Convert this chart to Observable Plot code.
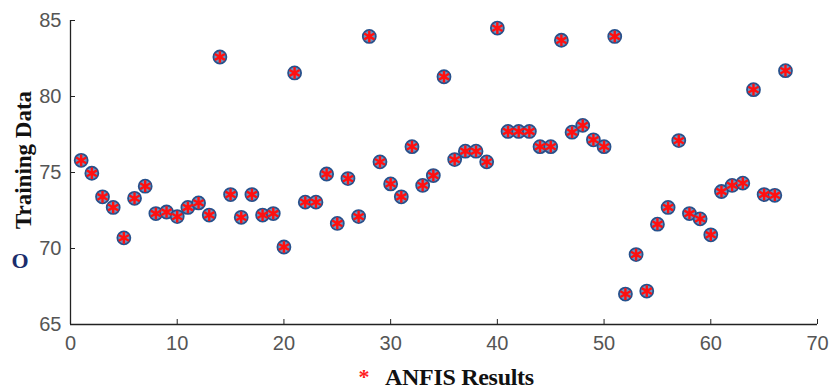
<!DOCTYPE html>
<html>
<head>
<meta charset="utf-8">
<script src="https://cdn.jsdelivr.net/npm/d3@7"></script>
<script src="https://cdn.jsdelivr.net/npm/@observablehq/plot@0.6"></script>
<style>
  body { margin: 0; background: #fff; }
  #wrap { position: relative; width: 830px; height: 389px; }
  .lbl { position: absolute; font-family: "Liberation Serif", "Times New Roman", serif; font-weight: bold; white-space: nowrap; }
  #ylab { left: 24px; top: 160px; transform: translate(-50%, -50%) rotate(-90deg); font-size: 23px; color: #111; }
  #ysym { left: 20px; top: 261px; transform: translate(-50%, -50%); font-size: 22px; color: #1a2d6b; }
  #xsym { left: 364px; top: 377px; transform: translate(-50%, -50%); font-size: 22px; color: #ff2020; }
  #xlab { left: 385px; top: 377px; transform: translate(0, -50%); font-size: 24px; color: #111; letter-spacing: -0.3px; }
  svg [aria-label="x-axis tick label"], svg [aria-label="y-axis tick label"] { fill: #555; }
</style>
</head>
<body>
<div id="wrap">
  <div id="chart"></div>
  <div class="lbl" id="ylab">Training Data</div>
  <div class="lbl" id="ysym">O</div>
  <div class="lbl" id="xsym">*</div>
  <div class="lbl" id="xlab">ANFIS Results</div>
</div>
<script>
const sampleIndex = d3.range(1, 68);
const trainingData = [
  75.8, 74.95, 73.4, 72.7, 70.7, 73.3, 74.1, 72.3, 72.4, 72.1,
  72.7, 73.0, 72.2, 82.6, 73.55, 72.05, 73.55, 72.2, 72.3, 70.1,
  81.55, 73.05, 73.05, 74.9, 71.65, 74.6, 72.1, 83.95, 75.7, 74.25,
  73.4, 76.7, 74.15, 74.8, 81.3, 75.85, 76.4, 76.4, 75.7, 84.5,
  77.7, 77.7, 77.7, 76.7, 76.7, 83.7, 77.65, 78.1, 77.15, 76.7,
  83.95, 67.0, 69.6, 67.2, 71.6, 72.7, 77.1, 72.3, 71.95, 70.9,
  73.75, 74.15, 74.3, 80.45, 73.55, 73.5, 81.7
];
const anfisResults = trainingData.slice();
const xTicks = [0, 10, 20, 30, 40, 50, 60, 70];
const yTicks = [65, 70, 75, 80, 85];

const rows = sampleIndex.map((i, k) => ({i, t: trainingData[k], a: anfisResults[k]}));

const chart = Plot.plot({
  width: 830,
  height: 389,
  marginLeft: 70,
  marginRight: 13,
  marginTop: 20,
  marginBottom: 65,
  style: {fontFamily: "Liberation Sans, Arial, sans-serif", background: "white"},
  x: {domain: [0, 70]},
  y: {domain: [65, 85]},
  marks: [
    Plot.axisX({ticks: xTicks, tickSize: -5, tickPadding: 16, fontSize: 20, stroke: "#222", label: null}),
    Plot.axisY({ticks: yTicks, tickSize: -5, tickPadding: 14, fontSize: 20, stroke: "#222", label: null}),
    Plot.ruleX([0], {stroke: "#222", strokeWidth: 1.3}),
    Plot.ruleY([65], {stroke: "#222", strokeWidth: 1.3}),
    Plot.dot(rows, {x: "i", y: "t", r: 6.5, stroke: "#27518c", strokeWidth: 1.8, fill: "#6d93c0"}),
    Plot.dot(rows, {x: "i", y: "a", symbol: "asterisk", r: 5.5, stroke: "#ff1010", strokeWidth: 2.4})
  ]
});
document.getElementById("chart").appendChild(chart);
</script>
</body>
</html>
